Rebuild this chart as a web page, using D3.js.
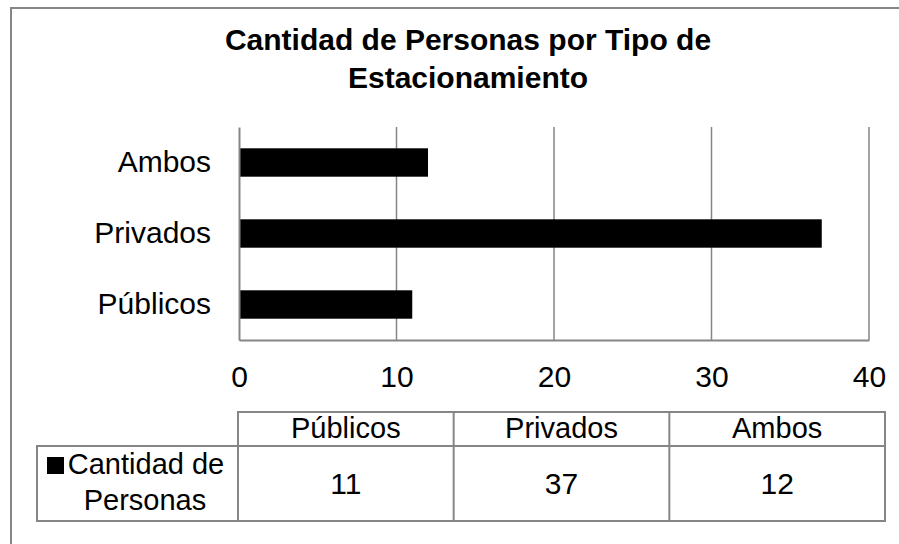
<!DOCTYPE html>
<html>
<head>
<meta charset="utf-8">
<script src="https://cdn.jsdelivr.net/npm/d3@7"></script>
<style>
  body { margin: 0; background: #fff; }
  svg text { font-family: "Liberation Sans", Arial, sans-serif; fill: #000; }
</style>
</head>
<body>
<div id="wrapper"></div>
<script>
// data
const categories = ["Públicos", "Privados", "Ambos"];
const values = [11, 37, 12];
const seriesName = ["Cantidad de", "Personas"];
const titleLines = ["Cantidad de Personas por Tipo de", "Estacionamiento"];
const xTicks = [0, 10, 20, 30, 40];

const width = 899;
const height = 544;
const gray = "#868686";

let dimensions = {
    width: width,
    height: height,
    margin: { top: 127, right: 30, bottom: 204, left: 239 }
};
dimensions.boundedWidth = 869 - dimensions.margin.left;
dimensions.boundedHeight = 340 - dimensions.margin.top;

const svg = d3.select("#wrapper")
    .append("svg")
    .attr("width", width)
    .attr("height", height);

// chart frame (only left/top visible in crop)
svg.append("rect")
    .attr("x", 11).attr("y", 8)
    .attr("width", width + 20).attr("height", height + 20)
    .attr("fill", "none")
    .attr("stroke", gray)
    .attr("stroke-width", 2);

// title
svg.append("text")
    .attr("text-anchor", "middle")
    .style("font-size", "30px")
    .style("font-weight", "bold")
    .selectAll("tspan")
    .data(titleLines)
    .join("tspan")
    .attr("x", 468)
    .attr("y", (d, i) => 50 + i * 38)
    .text(d => d);

const bounds = svg.append("g")
    .attr("transform", `translate(${dimensions.margin.left},${dimensions.margin.top})`);

const xScale = d3.scaleLinear().domain([0, 40]).range([0, dimensions.boundedWidth]);
const yScale = d3.scaleBand()
    .domain(categories.slice().reverse())
    .range([0, dimensions.boundedHeight])
    .paddingInner(0.6)
    .paddingOuter(0.3);

// gridlines
bounds.append("g")
    .selectAll("line")
    .data(xTicks.slice(1))
    .join("line")
    .attr("x1", d => xScale(d)).attr("x2", d => xScale(d))
    .attr("y1", 0).attr("y2", dimensions.boundedHeight)
    .attr("stroke", gray)
    .attr("stroke-width", 1.5);

// bars
bounds.append("g")
    .selectAll("rect")
    .data(categories)
    .join("rect")
    .attr("x", 0)
    .attr("y", d => yScale(d))
    .attr("width", (d, i) => xScale(values[i]))
    .attr("height", yScale.bandwidth())
    .attr("fill", "#000");

// x axis
const xAxis = bounds.append("g")
    .attr("transform", `translate(0,${dimensions.boundedHeight})`)
    .call(d3.axisBottom(xScale).tickValues(xTicks).tickSize(0).tickPadding(26));
xAxis.select(".domain").attr("stroke", gray).attr("stroke-width", 2);
xAxis.selectAll("text").style("font-size", "30px").style("font-family", "Liberation Sans, Arial, sans-serif");

// y axis
const yAxis = bounds.append("g")
    .call(d3.axisLeft(yScale).tickSize(0).tickPadding(28));
yAxis.select(".domain").attr("stroke", gray).attr("stroke-width", 2);
yAxis.selectAll("text").style("font-size", "30px").style("font-family", "Liberation Sans, Arial, sans-serif");

// data table
const tableLeft = 37, tableRight = 885;
const headTop = 412, rowTop = 446, rowBottom = 521;
const colX = d3.scaleBand().domain(categories).range([238, tableRight]);

const table = svg.append("g")
    .attr("fill", "none")
    .attr("stroke", gray)
    .attr("stroke-width", 2);

// header row
table.append("rect")
    .attr("x", colX.range()[0]).attr("y", headTop)
    .attr("width", colX.range()[1] - colX.range()[0]).attr("height", rowTop - headTop);
// data row
table.append("rect")
    .attr("x", tableLeft).attr("y", rowTop)
    .attr("width", tableRight - tableLeft).attr("height", rowBottom - rowTop);
// column dividers
table.selectAll("line.col")
    .data(categories)
    .join("line")
    .attr("class", "col")
    .attr("x1", d => colX(d)).attr("x2", d => colX(d))
    .attr("y1", headTop).attr("y2", rowBottom);

svg.append("g")
    .selectAll("text")
    .data(categories)
    .join("text")
    .attr("x", d => colX(d) + colX.bandwidth() / 2)
    .attr("y", 438)
    .attr("text-anchor", "middle")
    .style("font-size", "29px")
    .text(d => d);

svg.append("g")
    .selectAll("text")
    .data(values)
    .join("text")
    .attr("x", (d, i) => colX(categories[i]) + colX.bandwidth() / 2)
    .attr("y", 494)
    .attr("text-anchor", "middle")
    .style("font-size", "30px")
    .text(d => d);

// legend key + series name
svg.append("rect")
    .attr("x", 47).attr("y", 457)
    .attr("width", 17).attr("height", 17)
    .attr("fill", "#000");

svg.append("text")
    .attr("text-anchor", "middle")
    .style("font-size", "29px")
    .selectAll("tspan")
    .data(seriesName)
    .join("tspan")
    .attr("x", (d, i) => i === 0 ? 146 : 145)
    .attr("y", (d, i) => 474 + i * 36)
    .text(d => d);
</script>
</body>
</html>
